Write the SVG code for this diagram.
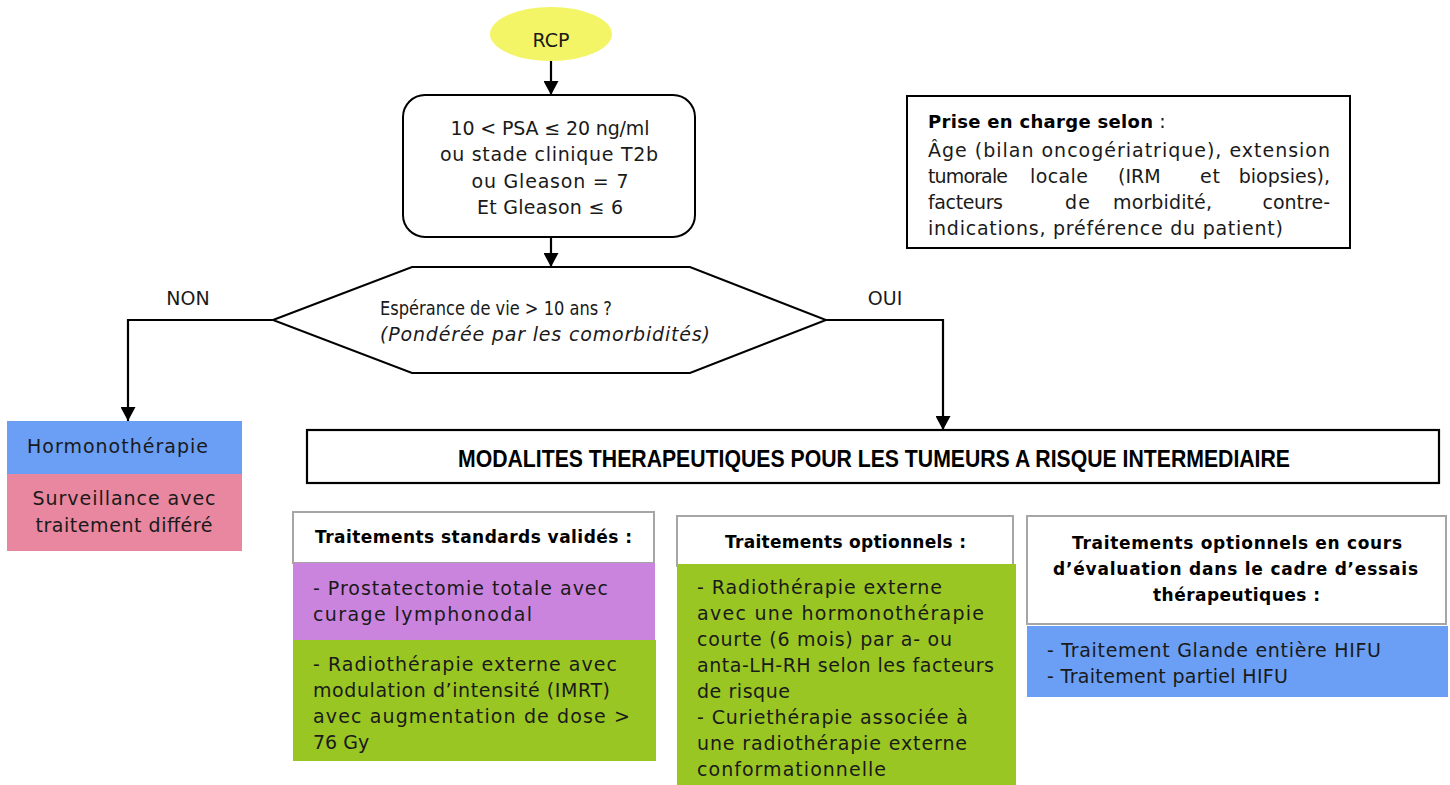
<svg xmlns="http://www.w3.org/2000/svg" width="1450" height="785" viewBox="0 0 1450 785">
<defs>
<marker id="ah" markerUnits="userSpaceOnUse" markerWidth="15" markerHeight="15" refX="14" refY="7.5" orient="auto">
<path d="M0,0 L14,7.5 L0,15 z" fill="#000"/>
</marker>
</defs>
<style>
text{font-family:"DejaVu Sans","Liberation Sans",sans-serif;font-size:19px;fill:#1a1a1a}
.b{font-weight:bold;font-size:17px;fill:#000}
.c{text-anchor:middle}
.e{text-anchor:end}
.conn{fill:none;stroke:#000;stroke-width:2.2}
.hdr{fill:#fff;stroke:#a6a6a6;stroke-width:2}
.it{font-style:italic}
</style>
<g id="connectors">
<path class="conn" d="M551,61 V95" marker-end="url(#ah)"/>
<path class="conn" d="M551,237 V267" marker-end="url(#ah)"/>
<path class="conn" d="M273,320 H128 V421" marker-end="url(#ah)"/>
<path class="conn" d="M826,320 H943 V430" marker-end="url(#ah)"/>
<text x="188" y="305" class="c">NON</text>
<text x="885" y="305" class="c">OUI</text>
</g>
<g id="rcp">
<ellipse cx="551" cy="34" rx="61" ry="27" fill="#f4f566"/>
<text x="551" y="47" class="c">RCP</text>
</g>
<g id="criteria">
<rect x="403" y="95" width="292" height="142" rx="22" fill="#fff" stroke="#000" stroke-width="2"/>
<text x="550" y="135" class="c" textLength="199">10 &lt; PSA ≤ 20 ng/ml</text>
<text x="549" y="161" class="c" textLength="218">ou stade clinique T2b</text>
<text x="550" y="188" class="c" textLength="157">ou Gleason = 7</text>
<text x="550" y="214" class="c" textLength="146">Et Gleason ≤ 6</text>
</g>
<g id="decision">
<polygon points="273,320 412,267 690,267 826,320 690,373 412,373" fill="#fff" stroke="#000" stroke-width="2"/>
<text x="380" y="315" textLength="232" lengthAdjust="spacingAndGlyphs">Espérance de vie &gt; 10 ans ?</text>
<text x="380" y="341" class="it" textLength="330">(Pondérée par les comorbidités)</text>
</g>
<g id="prise">
<rect x="907" y="96" width="443" height="152" fill="#fff" stroke="#000" stroke-width="2"/>
<text x="928" y="128"><tspan class="b" style="font-size:18px" textLength="225">Prise en charge selon</tspan> :</text>
<text x="928" y="157" textLength="402">Âge (bilan oncogériatrique), extension</text>
<text x="928" y="183" textLength="80">tumorale</text>
<text x="1030" y="183" textLength="58">locale</text>
<text x="1118" y="183">(IRM</text>
<text x="1200" y="183" textLength="20">et</text>
<text x="1330" y="183" class="e">biopsies),</text>
<text x="928" y="209" textLength="75">facteurs</text>
<text x="1065" y="209" textLength="25">de</text>
<text x="1113" y="209" textLength="99">morbidité,</text>
<text x="1330" y="209" class="e">contre-</text>
<text x="928" y="235" textLength="355">indications, préférence du patient)</text>
</g>
<g id="hormono">
<rect x="7" y="421" width="235" height="53" fill="#6a9ff5"/>
<text x="27" y="453" textLength="181">Hormonothérapie</text>
</g>
<g id="surveillance">
<rect x="7" y="474" width="235" height="77" fill="#e8879f"/>
<text x="124" y="505" class="c" textLength="183">Surveillance avec</text>
<text x="124" y="532" class="c" textLength="177">traitement différé</text>
</g>
<g id="modalites">
<rect x="307" y="430" width="1132" height="53" fill="#fff" stroke="#000" stroke-width="2.2"/>
<text x="874" y="467" class="c" style="font-family:'Liberation Sans Narrow','Liberation Sans',sans-serif;font-weight:bold;font-size:23px;fill:#000" textLength="832" lengthAdjust="spacingAndGlyphs">MODALITES THERAPEUTIQUES POUR LES TUMEURS A RISQUE INTERMEDIAIRE</text>
</g>
<g id="col1-header">
<rect class="hdr" x="293" y="512" width="361" height="51"/>
<text x="315" y="543" class="b" textLength="317">Traitements standards validés :</text>
</g>
<g id="col1-prostatectomie">
<rect x="293" y="563" width="362" height="77" fill="#cb84de"/>
<text x="313" y="595" textLength="295">- Prostatectomie totale avec</text>
<text x="313" y="621" textLength="219">curage lymphonodal</text>
</g>
<g id="col1-radiotherapie">
<rect x="293" y="640" width="363" height="121" fill="#99c623"/>
<text x="313" y="671" textLength="304">- Radiothérapie externe avec</text>
<text x="313" y="697" textLength="297">modulation d’intensité (IMRT)</text>
<text x="313" y="723" textLength="317">avec augmentation de dose &gt;</text>
<text x="313" y="749">76 Gy</text>
</g>
<g id="col2-header">
<rect class="hdr" x="677" y="516" width="336" height="50"/>
<text x="725" y="548" class="b" textLength="241">Traitements optionnels :</text>
</g>
<g id="col2-options">
<rect x="677" y="564" width="339" height="221" fill="#99c623"/>
<text x="697" y="594" textLength="245">- Radiothérapie externe</text>
<text x="697" y="620" textLength="287">avec une hormonothérapie</text>
<text x="697" y="646" textLength="255">courte (6 mois) par a- ou</text>
<text x="697" y="672" textLength="297">anta-LH-RH selon les facteurs</text>
<text x="697" y="698" textLength="93">de risque</text>
<text x="697" y="724" textLength="271">- Curiethérapie associée à</text>
<text x="697" y="750" textLength="270">une radiothérapie externe</text>
<text x="697" y="776" textLength="189">conformationnelle</text>
</g>
<g id="col3-header">
<rect class="hdr" x="1027" y="516" width="419" height="108"/>
<text x="1072" y="549" class="b" textLength="330">Traitements optionnels  en cours</text>
<text x="1053" y="575" class="b" textLength="365">d’évaluation dans le cadre d’essais</text>
<text x="1153" y="601" class="b" textLength="167">thérapeutiques :</text>
</g>
<g id="col3-hifu">
<rect x="1027" y="626" width="421" height="71" fill="#6a9ff5"/>
<text x="1047" y="657" textLength="334">- Traitement Glande entière HIFU</text>
<text x="1047" y="683" textLength="241">- Traitement partiel HIFU</text>
</g>
</svg>
